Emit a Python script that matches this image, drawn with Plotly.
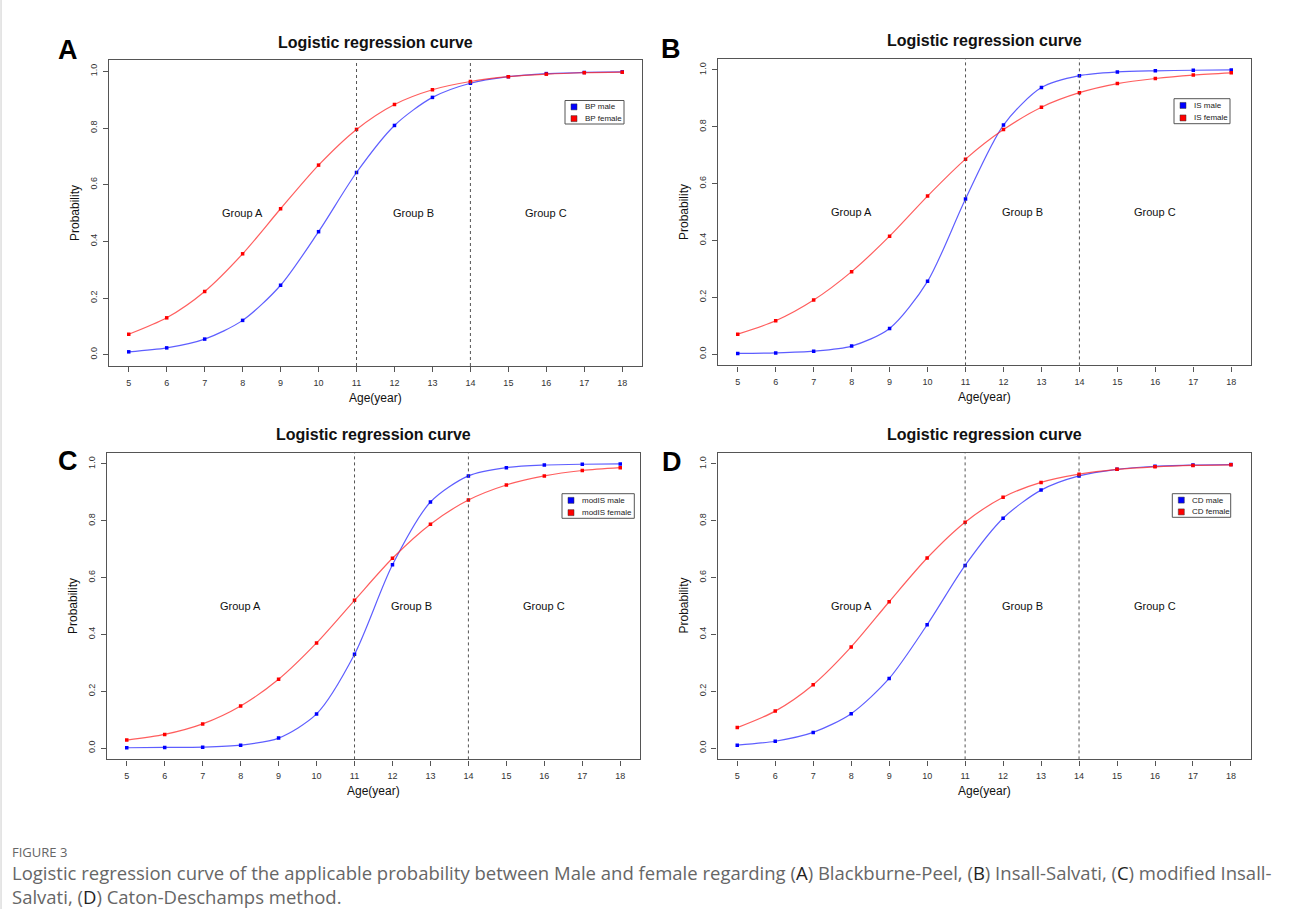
import plotly.graph_objects as go

# ---------------- data ----------------
ages = [5, 6, 7, 8, 9, 10, 11, 12, 13, 14, 15, 16, 17, 18]

bp_male   = [0.010, 0.024, 0.055, 0.121, 0.245, 0.434, 0.643, 0.809, 0.908, 0.958, 0.981, 0.992, 0.996, 0.998]
bp_female = [0.072, 0.130, 0.223, 0.356, 0.515, 0.669, 0.795, 0.883, 0.935, 0.964, 0.981, 0.990, 0.995, 0.997]

is_male   = [0.002, 0.004, 0.010, 0.028, 0.090, 0.256, 0.546, 0.806, 0.938, 0.980, 0.993, 0.997, 0.999, 1.000]
is_female = [0.070, 0.117, 0.190, 0.290, 0.415, 0.556, 0.686, 0.790, 0.869, 0.920, 0.952, 0.970, 0.982, 0.990]

modis_male   = [0.001, 0.002, 0.003, 0.010, 0.035, 0.120, 0.330, 0.645, 0.866, 0.958, 0.987, 0.996, 0.999, 1.000]
modis_female = [0.028, 0.048, 0.085, 0.148, 0.242, 0.370, 0.520, 0.668, 0.788, 0.873, 0.926, 0.958, 0.977, 0.987]

cd_male   = [0.010, 0.024, 0.055, 0.121, 0.245, 0.434, 0.643, 0.809, 0.908, 0.958, 0.981, 0.992, 0.996, 0.998]
cd_female = [0.072, 0.130, 0.223, 0.356, 0.515, 0.669, 0.795, 0.883, 0.935, 0.964, 0.981, 0.990, 0.995, 0.997]

panel_letters = ["A", "B", "C", "D"]
legend_names = [("BP male", "BP female"), ("IS male", "IS female"),
                ("modIS male", "modIS female"), ("CD male", "CD female")]
series = [(bp_male, bp_female), (is_male, is_female),
          (modis_male, modis_female), (cd_male, cd_female)]
group_labels = ["Group A", "Group B", "Group C"]
group_x = [8, 12.5, 16]
group_y = 0.5
cutoffs = [11, 14]
y_ticks = [0.0, 0.2, 0.4, 0.6, 0.8, 1.0]

# ---------------- layout helpers ----------------
W, H = 1290, 909
def px(x):
    return x / W
def py(y):
    return 1 - y / H

# plot boxes in pixels (left, top, right, bottom)
boxes = [(109, 60, 642, 366), (718, 58.6, 1251, 365.4),
         (107, 452.6, 640, 759.4), (717.5, 452.6, 1250.7, 759.4)]
# legend boxes in pixels (left, top, right, bottom)
leg_boxes = [(565, 100.5, 624, 124), (1174, 98.7, 1230, 123.7),
             (562, 493.7, 634.3, 518.3), (1172.3, 493.7, 1230.7, 517.3)]
letter_pos = [(68, 50), (671, 49), (68, 461), (672, 462)]

FONT = "Liberation Sans, Arial, sans-serif"
BLUE_LINE = "rgba(40,40,255,0.75)"
RED_LINE = "rgba(255,40,40,0.75)"

fig = go.Figure()
layout = dict(
    width=W, height=H, margin=dict(l=0, r=0, t=0, b=0),
    paper_bgcolor="white", plot_bgcolor="white",
    showlegend=False, font=dict(family=FONT, color="#222"),
)
annotations = []
shapes = []

def note(text, x, y, size, color="#111", family=FONT, xanchor="center",
         yanchor="middle", angle=0, xref="paper", yref="paper"):
    annotations.append(dict(text=text, x=x, y=y, xref=xref, yref=yref,
                            xanchor=xanchor, yanchor=yanchor, textangle=angle,
                            showarrow=False, align="left",
                            font=dict(size=size, color=color, family=family)))

for i in range(4):
    n = "" if i == 0 else str(i + 1)
    xa, ya = "x" + n, "y" + n
    l, t, r, b = boxes[i]
    male, female = series[i]
    fig.add_trace(go.Scatter(
        x=ages, y=male, xaxis=xa, yaxis=ya, mode="lines+markers",
        line=dict(color=BLUE_LINE, width=1.2, shape="spline", smoothing=0.8),
        marker=dict(color="#0000ff", size=3.5, symbol="square"), name=legend_names[i][0]))
    fig.add_trace(go.Scatter(
        x=ages, y=female, xaxis=xa, yaxis=ya, mode="lines+markers",
        line=dict(color=RED_LINE, width=1.2, shape="spline", smoothing=0.8),
        marker=dict(color="#ff0000", size=3.5, symbol="square"), name=legend_names[i][1]))

    axis_common = dict(
        showline=True, linecolor="#555", linewidth=1.2, mirror=True,
        ticks="outside", ticklen=5, tickcolor="#555", tickwidth=1.2,
        showgrid=False, zeroline=False,
        tickfont=dict(size=9, color="#333", family=FONT),
    )
    layout["xaxis" + n] = dict(
        axis_common, domain=[px(l), px(r)], range=[4.48, 18.52],
        tickvals=ages, anchor=ya, ticklabelstandoff=3)
    layout["yaxis" + n] = dict(
        axis_common, domain=[py(b), py(t)], range=[-0.04, 1.04],
        tickvals=y_ticks, tickformat=".1f", tickangle=-90, anchor=xa,
        ticklabelstandoff=2)

    # cutoff lines
    for c in cutoffs:
        shapes.append(dict(type="line", xref=xa, yref=ya + " domain",
                           x0=c, x1=c, y0=0, y1=1,
                           line=dict(color="#555", width=1, dash="dot")))
    # group labels
    for g, gx in zip(group_labels, group_x):
        note(g, gx, group_y, 11, xref=xa, yref=ya)
    # title
    note("<b>Logistic regression curve</b>", px((l + r) / 2), py(t - 18), 16)
    # axis titles
    note("Age(year)", px((l + r) / 2), py(b + 32), 12)
    note("Probability", px(l - 34), py((t + b) / 2), 12, angle=-90)
    # panel letter
    lx, ly = letter_pos[i]
    note("<b>%s</b>" % panel_letters[i], px(lx), py(ly), 27, color="#000")
    # legend box
    gl, gt, gr, gb = leg_boxes[i]
    shapes.append(dict(type="rect", xref="paper", yref="paper",
                       x0=px(gl), x1=px(gr), y0=py(gb), y1=py(gt),
                       line=dict(color="#555", width=1), fillcolor="white"))
    row_h = (gb - gt) / 2
    for k, col in enumerate(["#0000ff", "#ff0000"]):
        cy = gt + row_h * (k + 0.5) + 0.5
        sx = gl + 9
        shapes.append(dict(type="rect", xref="paper", yref="paper",
                           x0=px(sx - 3), x1=px(sx + 3), y0=py(cy + 3), y1=py(cy - 3),
                           line=dict(color="#333", width=0.5), fillcolor=col))
        note(legend_names[i][k], px(gl + 18), py(cy), 8, color="#222", xanchor="left")

# caption
CAP_FONT = "Open Sans, Noto Sans, sans-serif"
note("FIGURE 3", px(10), py(852), 13, color="#666", family=CAP_FONT, xanchor="left")
caption = ("Logistic regression curve of the applicable probability between Male and female regarding "
           "(<span style='color:#222'>A</span>) Blackburne-Peel, (<span style='color:#222'>B</span>) Insall-Salvati, "
           "(<span style='color:#222'>C</span>) modified Insall-<br>"
           "Salvati, (<span style='color:#222'>D</span>) Caton-Deschamps method.")
note(caption, px(10), py(884), 18.5, color="#666", family=CAP_FONT, xanchor="left")
# page border on the left
shapes.append(dict(type="line", xref="paper", yref="paper", x0=0.0008, x1=0.0008, y0=0, y1=1,
                   line=dict(color="#ccc", width=1)))

layout["annotations"] = annotations
layout["shapes"] = shapes
fig.update_layout(**layout)
fig.write_html("out.html", config={"displayModeBar": False},
               post_script="document.body.style.margin='0px';")
